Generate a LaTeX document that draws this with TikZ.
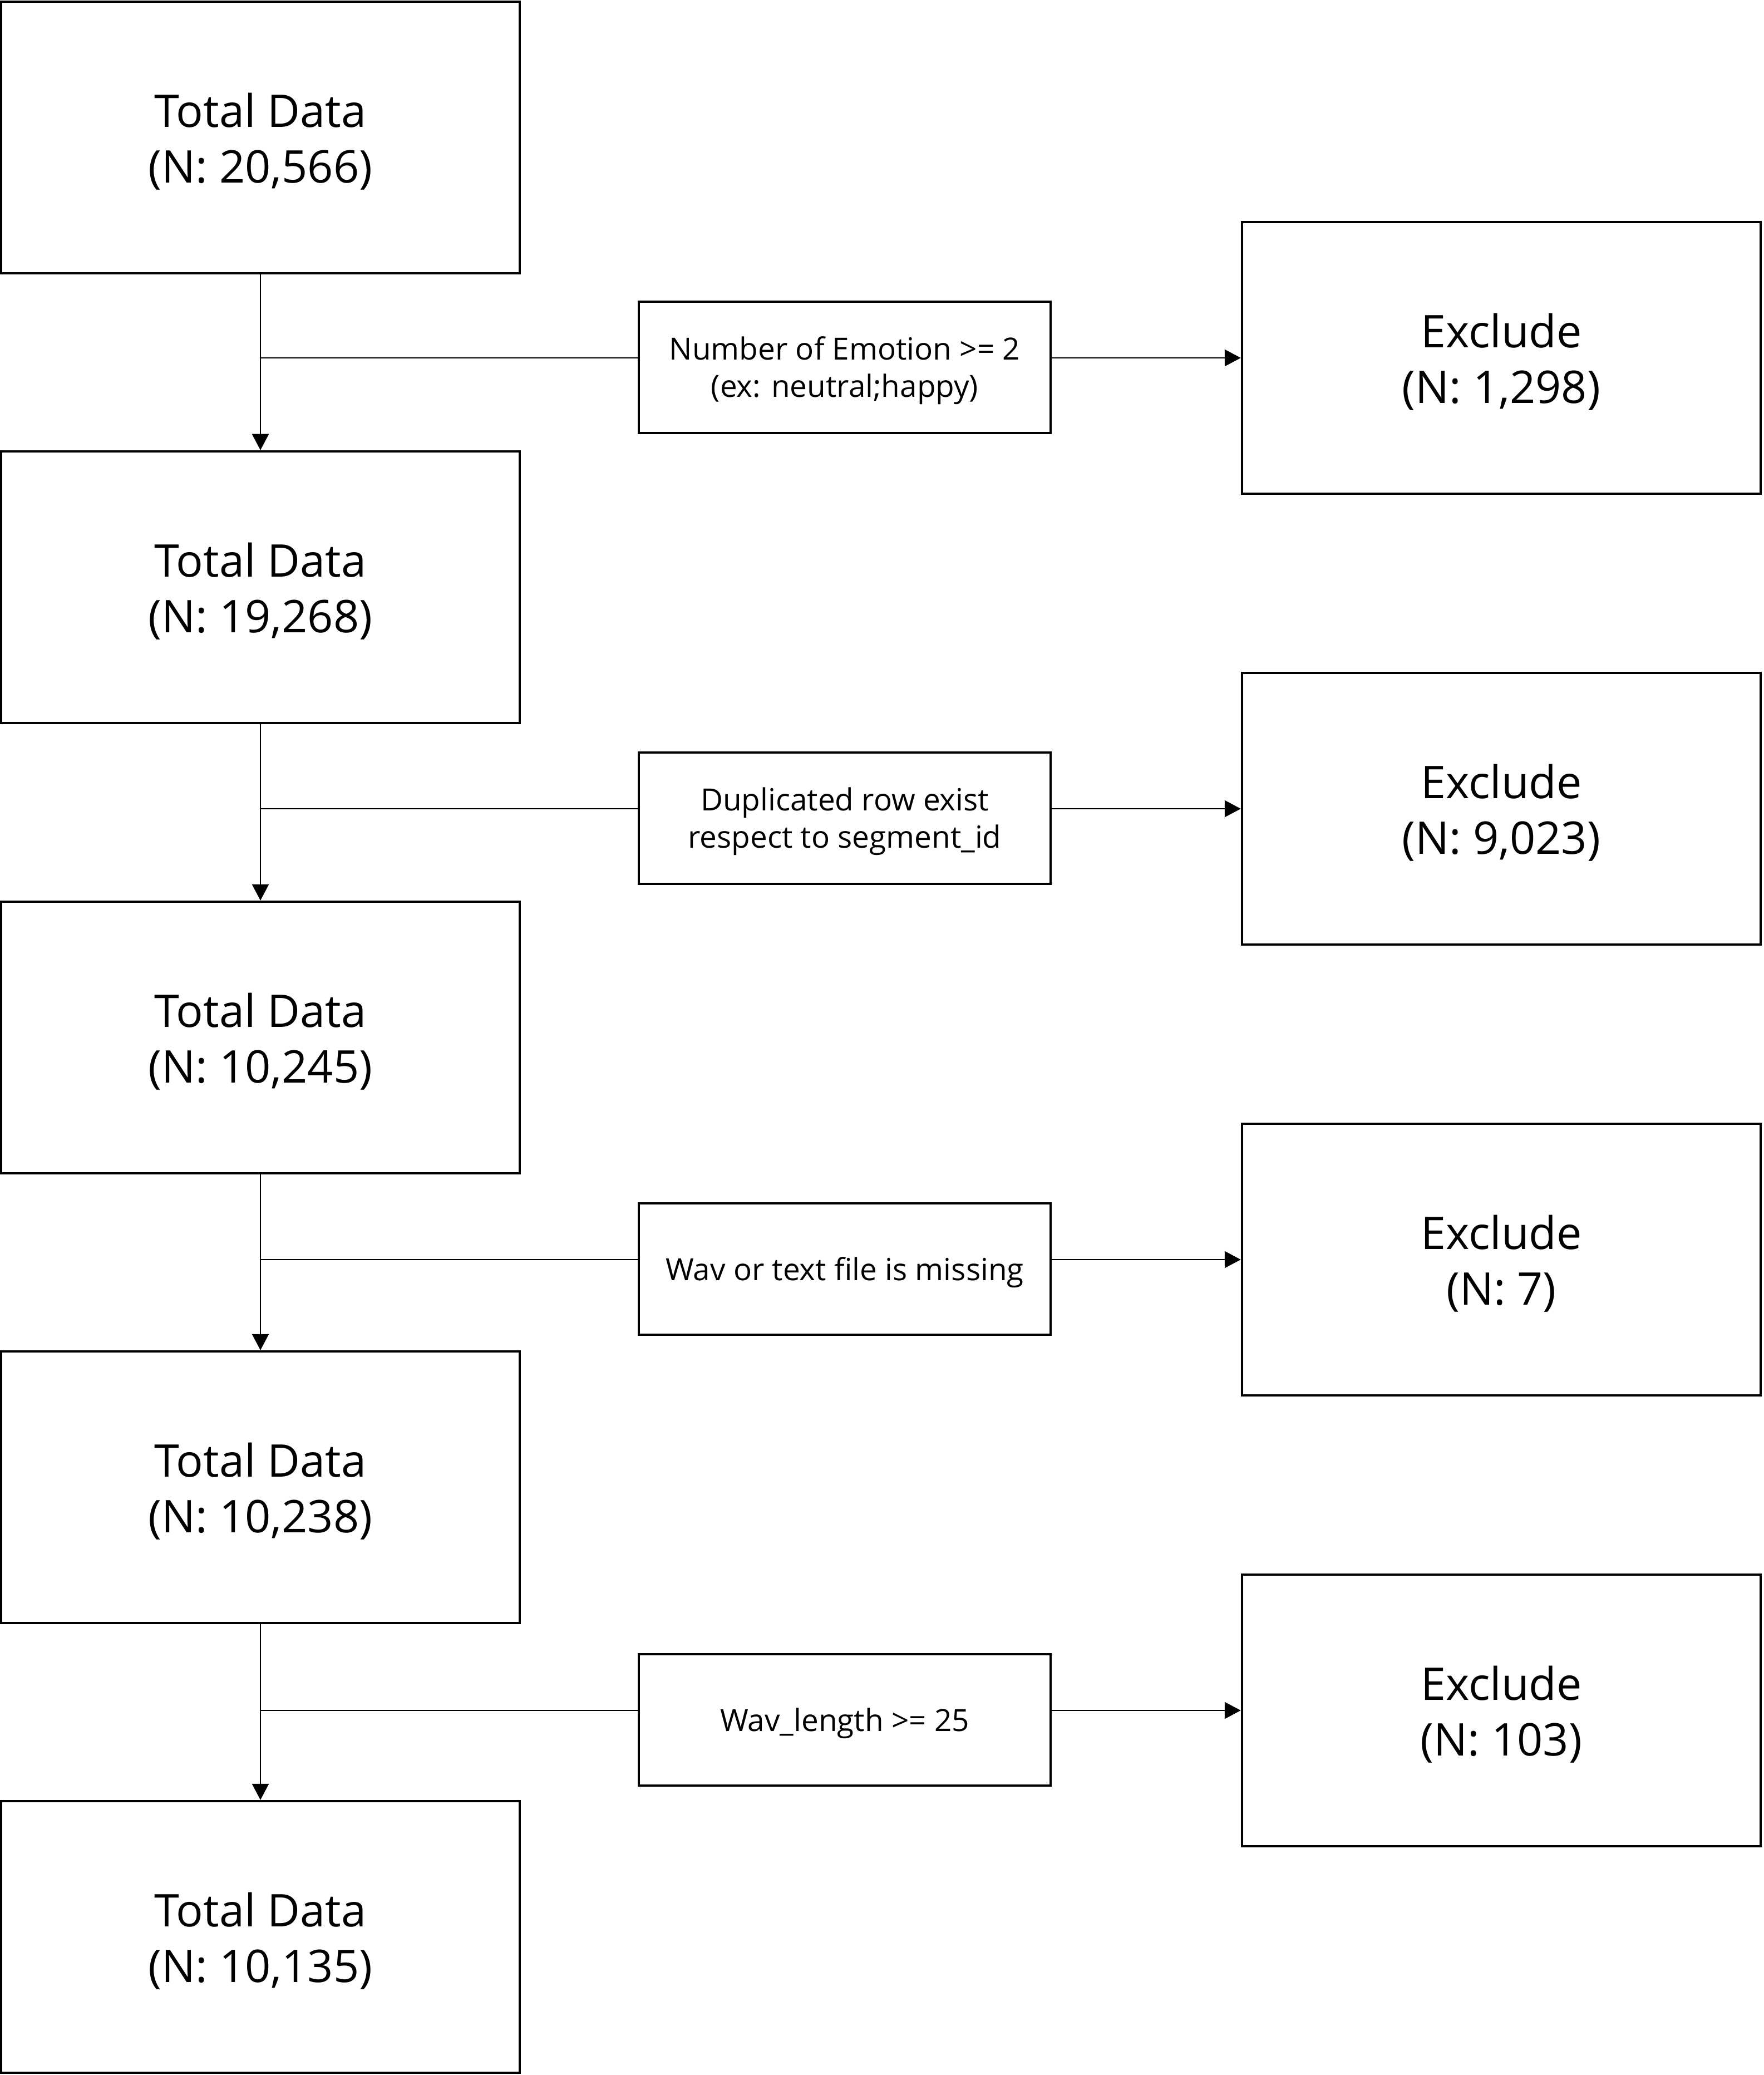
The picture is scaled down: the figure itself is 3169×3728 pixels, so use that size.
\documentclass[tikz,border=0pt]{standalone}
\usepackage{fontspec}
\setmainfont{Open Sans}
\usetikzlibrary{arrows.meta}
\begin{document}
\begin{tikzpicture}[x=0.01cm,y=-0.01cm,
  bigbox/.style={draw,line width=4.5*0.01cm,minimum width=932*0.01cm,minimum height=488*0.01cm,inner sep=0pt,align=center,font=\fontsize{23}{28.6}\selectfont,text height=51.9pt,text depth=5.5pt},
  lblbox/.style={draw,line width=4.5*0.01cm,minimum width=740*0.01cm,minimum height=236*0.01cm,inner sep=0pt,align=center,font=\fontsize{15.6}{18.9}\selectfont},
  lbltwo/.style={lblbox,text height=34pt,text depth=3.7pt},
  conn/.style={line width=2.5*0.01cm},
  arr/.style={conn,-{Triangle[width=30*0.01cm,length=29*0.01cm]}}]
\useasboundingbox (0,0) rectangle (3169,3728);
\node[bigbox] (T1) at (468,247) {Total Data\\(N: 20,566)};
\node[bigbox] (T2) at (468,1055) {Total Data\\(N: 19,268)};
\node[bigbox] (T3) at (468,1864) {Total Data\\(N: 10,245)};
\node[bigbox] (T4) at (468,2672) {Total Data\\(N: 10,238)};
\node[bigbox] (T5) at (468,3480) {Total Data\\(N: 10,135)};
\node[bigbox] (E1) at (2698,643) {Exclude\\(N: 1,298)};
\node[bigbox] (E2) at (2698,1453) {Exclude\\(N: 9,023)};
\node[bigbox] (E3) at (2698,2263) {Exclude\\(N: 7)};
\node[bigbox] (E4) at (2698,3073) {Exclude\\(N: 103)};
\node[lbltwo] (L1) at (1518,660) {Number of Emotion >= 2\\(ex: neutral;happy)};
\node[lbltwo] (L2) at (1518,1470) {Duplicated row exist\\respect to segment\_id};
\node[lblbox,execute at begin node={\rule{0pt}{15.3pt}}] (L3) at (1518,2280) {Wav or text file is missing};
\node[lblbox,execute at begin node={\rule{0pt}{15.3pt}}] (L4) at (1518,3090) {Wav\_length >= 25};
\foreach \a/\b in {T1/T2,T2/T3,T3/T4,T4/T5} \draw[arr] (\a.south) -- (\b.north);
\foreach \t/\l/\e in {T1/L1/E1,T2/L2/E2,T3/L3/E3,T4/L4/E4} {
  \draw[conn] (\t.south |- \e.west) -- (\l.west |- \e.west);
  \draw[arr] (\l.east |- \e.west) -- (\e.west);
}
\end{tikzpicture}
\end{document}
